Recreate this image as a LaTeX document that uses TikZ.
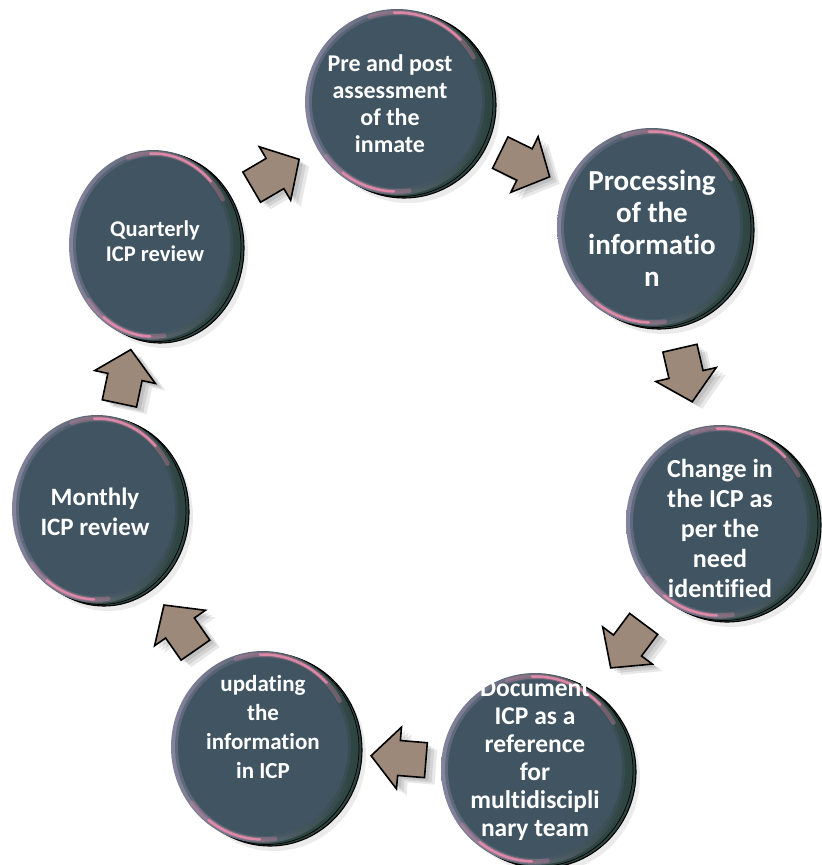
\documentclass[tikz,border=0pt]{standalone}
\usepackage{fontspec}
\setmainfont{Carlito}[Ligatures=NoCommon]
\usetikzlibrary{calc,backgrounds,shapes.geometric}
\definecolor{facecol}{HTML}{405462}
\definecolor{rimcol}{HTML}{2E4542}
\definecolor{bevelL}{HTML}{85849E}
\definecolor{pinkhl}{HTML}{EE8DAE}
\definecolor{arrowfill}{HTML}{9D8979}
\tikzset{
  discshape/.style={ellipse, inner sep=0pt, draw=none},
  disctext/.style={text=white, align=center, inner sep=0pt},
  blockarrow/.style={fill=arrowfill, draw=black, line width=1.6pt, line join=miter},
  arrowshadow/.style={fill=black, opacity=0.09},
  pinkwide/.style={pinkhl, line width=4.5pt, opacity=0.3, line cap=round},
  pinknarrow/.style={pinkhl, line width=2.5pt, opacity=0.85, line cap=round},
}
% name, x, y, rx, ry, font size, baselineskip, text offset, text
\newcommand\disc[9]{%
  \node[discshape, minimum width=2*#4pt, minimum height=2*#5pt] (#1) at (#2,#3) {};
  \node[disctext, font=\bfseries\fontsize{#6}{#7}\selectfont] (#1-text) at ($(#1.center)+#8$) {#9};
  \begin{scope}[on background layer]
    \fill[black, opacity=.08] ($(#1.center)+(11,8)$) ellipse[x radius=#4, y radius=#5];
    \filldraw[fill=rimcol, draw=black, line width=1.1pt] ($(#1.center)+(7,3)$) ellipse[x radius=#4, y radius=#5];
    \draw[black, line width=.7pt] ($(#1.center)+(4,1.5)$) ellipse[x radius=#4, y radius=#5];
    \shade[left color=bevelL, right color=rimcol] (#1.center) ellipse[x radius=#4, y radius=#5];
    \fill[facecol, opacity=.5] (#1.center) ellipse[x radius={#4-4}, y radius={#5-4}];
    \fill[facecol] (#1.center) ellipse[x radius={#4-7}, y radius={#5-7}];
    \draw[pinkwide] ($(#1.center)+(252:{#4-3.5} and {#5-3.5})$) arc[start angle=252, end angle=330, x radius={#4-3.5}, y radius={#5-3.5}];
    \draw[pinknarrow] ($(#1.center)+(268:{#4-3.5} and {#5-3.5})$) arc[start angle=268, end angle=316, x radius={#4-3.5}, y radius={#5-3.5}];
    \draw[pinkwide] ($(#1.center)+(82:{#4-3.5} and {#5-3.5})$) arc[start angle=82, end angle=143, x radius={#4-3.5}, y radius={#5-3.5}];
    \draw[pinknarrow] ($(#1.center)+(92:{#4-3.5} and {#5-3.5})$) arc[start angle=92, end angle=128, x radius={#4-3.5}, y radius={#5-3.5}];
  \end{scope}}
\def\arrowpath{(-27,17.5) -- (0,17.5) -- (0,31) -- (28,0) -- (0,-31) -- (0,-17.5) -- (-27,-17.5) -- cycle}
\newcommand\flowarrow[2]{%
  \pgfmathanglebetweenpoints{\pgfpointanchor{#1}{center}}{\pgfpointanchor{#2}{center}}%
  \edef\arrang{\pgfmathresult}%
  \coordinate (#1-#2) at ($(#1.center)!0.5!(#2.center)$);
  \foreach \sx/\sy in {4/3,7/5,10/7}{
    \begin{scope}[shift={($(#1-#2)+(\sx,\sy)$)}, rotate=\arrang]
      \fill[arrowshadow] \arrowpath;
    \end{scope}}
  \begin{scope}[shift={(#1-#2)}, rotate=\arrang]
    \draw[blockarrow] \arrowpath;
  \end{scope}}
\begin{document}
\begin{tikzpicture}[x=1pt, y=-1pt]
  \useasboundingbox (0,0) rectangle (822,865);
  \disc{pre}{397}{102}{92}{93}{24}{27}{(-7,2)}{Pre and post\\assessment\\of the\\inmate}
  \disc{proc}{652}{227}{95}{99}{29}{32}{(0,1)}{Processing\\of the\\informatio\\n}
  \disc{change}{720}{522}{94}{97}{26}{30}{(0,6)}{Change in\\the ICP as\\per the\\need\\identified}
  \disc{doc}{535}{769}{94}{96}{25.5}{28}{(0,-9)}{Document\\ICP as a\\reference\\for\\multidiscipli\\nary team}
  \disc{upd}{263}{747}{92}{96}{23}{29}{(0,-20)}{updating\\the\\information\\in ICP}
  \disc{month}{97}{509}{85}{94}{25}{30}{(-2,3)}{Monthly\\ICP review}
  \disc{quart}{153}{245}{84}{95}{22.5}{25}{(2,-4)}{Quarterly\\ICP review}
  \flowarrow{quart}{pre}
  \flowarrow{pre}{proc}
  \flowarrow{proc}{change}
  \flowarrow{change}{doc}
  \flowarrow{doc}{upd}
  \flowarrow{upd}{month}
  \flowarrow{month}{quart}
\end{tikzpicture}
\end{document}
